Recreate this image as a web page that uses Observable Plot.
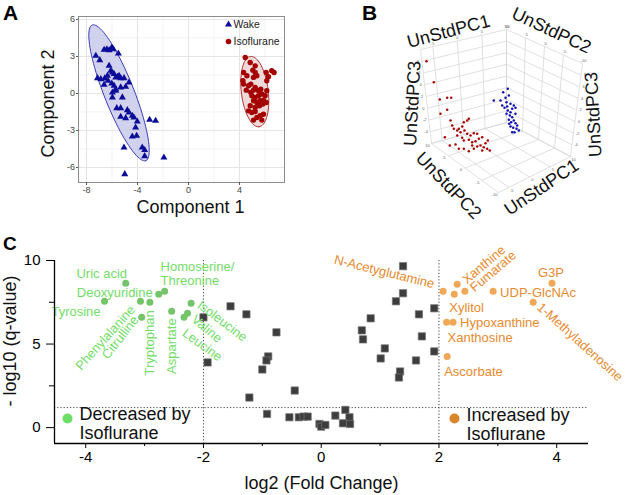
<!DOCTYPE html>
<html><head><meta charset="utf-8">
<script src="https://cdn.jsdelivr.net/npm/d3@7"></script>
<script src="https://cdn.jsdelivr.net/npm/@observablehq/plot@0.6"></script>
<style>
html,body{margin:0;padding:0;background:#fff;}
#fig{position:relative;width:625px;height:495px;overflow:hidden;font-family:"Liberation Sans",Arial,sans-serif;}
.lab{position:absolute;font-weight:bold;line-height:1;color:#000;z-index:5;}
</style></head><body>
<div id="fig">
 <div class="lab" style="left:3px;top:2px;font-size:21px">A</div>
 <div class="lab" style="left:362px;top:2px;font-size:21px">B</div>
 <div class="lab" style="left:3px;top:234px;font-size:19px">C</div>
</div>
<script>
const FONT = '"Liberation Sans", Arial, sans-serif';

// ---------- Panel A: PLS-DA scores ----------
const wakeComp1 = [-7.27,-6.96,-6.62,-6.41,-6.23,-6.02,-5.89,-5.50,-7.14,-6.88,-6.57,-6.36,-6.23,-6.10,-5.97,-5.84,-5.71,-5.58,-5.45,-5.32,-5.06,-4.67,-6.62,-6.31,-6.02,-5.84,-5.71,-5.97,-5.71,-5.32,-4.93,-5.97,-5.19,-5.63,-5.32,-4.80,-5.32,-4.93,-4.67,-4.41,-4.28,-4.02,-4.15,-4.41,-4.07,-5.06,-3.63,-3.44,-3.44,-3.05,-2.58,-1.93,-5.00];
const wakeComp2 = [3.05,2.70,3.54,3.59,3.51,3.73,3.59,3.24,1.24,1.16,1.22,1.43,2.24,1.84,1.70,1.57,1.30,1.35,1.43,1.24,1.24,0.89,0.70,1.03,0.81,0.62,0.35,0.08,0.22,0.49,0.54,-0.32,-0.32,-1.19,-1.19,-1.35,-1.89,-2.00,-1.54,-1.81,-1.95,-2.27,-2.76,-3.49,-3.43,-4.38,-4.38,-4.59,-5.08,-2.14,-2.22,-5.19,-6.54];
const isoComp1 = [4.45,4.84,5.23,5.05,5.23,4.32,4.58,4.27,5.36,5.10,6.09,6.53,6.71,6.27,6.14,4.32,4.71,4.89,4.53,4.89,5.10,5.23,5.49,5.67,4.97,5.23,5.49,5.75,5.10,5.36,5.62,5.88,6.01,6.14,4.84,5.23,5.57,5.83,6.09,4.97,5.23,4.71,5.62,5.88,5.10,5.75,5.36];
const isoComp2 = [2.92,2.51,2.24,1.89,1.70,1.70,1.43,1.03,1.43,1.30,1.70,1.84,1.70,1.35,1.03,0.76,0.62,0.76,0.27,0.08,0.27,0.49,0.22,0.35,-0.19,-0.32,-0.19,-0.05,-0.59,-0.73,-0.59,-0.54,-0.19,0.22,-1.00,-1.14,-1.00,-0.86,-0.73,-1.54,-1.46,-1.41,-1.81,-1.68,-2.16,-2.16,-1.95];
// confidence ellipses: centre, half-axis vectors (data units)
const wakeEllipse = {cx:-5.45, cy:0.05, ax:2.1, ay:-5.5, bx:1.1, by:0.43};
const isoEllipse  = {cx:5.2, cy:0.15, ax:0.33, ay:-2.85, bx:1.05, by:0.12};

// ---------- Panel B: 3-D unstandardised PCA (projected view) ----------
const isoView = [[106,60.7],[113.3,81.7],[119.3,99],[126.7,97.3],[130.7,97.3],[120,113.3],[126.7,109.3],[130,120],[131.7,125],[124.3,136.7],[129.3,145],[135,144],[138.3,128.3],[141.7,126],[143.3,121.7],[146.7,120],[148.3,118.3],[140,131.7],[144,130],[146.7,133.3],[150,135],[153.3,132.7],[156.7,133.3],[136.7,135],[141.7,137.3],[143.3,140],[148.3,139.3],[151.7,141.7],[155,140.7],[158.3,138.3],[161.7,136.7],[160,145],[163.3,146.7],[166.7,148.3],[169.3,150],[167.3,140],[165,142.7],[138.3,148.3],[143.3,148.3],[148.3,150.7],[153.3,148.3],[156.7,146],[161.7,150],[151.7,145],[133.3,128.3],[136.7,130]];
const wakeView = [[173.3,100],[180,100],[182.7,91.7],[187.3,88.3],[188.3,95],[185,97.3],[186,101.7],[190,103.3],[193.3,105],[195,107.3],[181.7,105],[184,107.3],[186.7,106],[187.3,110],[191.7,108.3],[186,113.3],[190,111.7],[189.3,115],[195,113.3],[191.7,116.7],[188.3,119.3],[190.7,121.7],[193.3,120],[195,122.7],[188.7,123.3],[196.7,125],[190,126],[192.7,127.3],[196,128.3],[198.3,130],[194,131.7],[191.7,131.7]];
const pc1Ticks = [10,5,0,-5];
const pc2Ticks = [10,5,0,-5,-10];
const pc3Ticks = [-6,-4,-2,0,2,4,6,8,10];

// ---------- Panel C: volcano plot ----------
const decreasedNames = ["Uric acid","Tyrosine","Deoxyuridine","Homoserine/\nThreonine","Phenylalanine","Citrulline","Tryptophan","Aspartate","Isoleucine","Valine","Leucine"];
const decreasedLog2FC = [-3.32,-3.68,-2.76,-2.66,-3.07,-3.05,-2.91,-2.54,-2.21,-2.27,-2.33];
const decreasedLogQ   = [8.64,7.56,7.98,8.16,7.56,6.60,7.50,6.96,7.44,6.84,6.60];
const increasedNames = ["N-Acetyglutamine","Xanthine","Xylitol","Fumarate","UDP-GlcNAc","G3P","1-Methyladenosine","Hypoxanthine","Xanthosine","Ascorbate"];
const increasedLog2FC = [2.07,2.31,2.26,2.44,2.92,3.92,3.60,2.24,2.13,2.14];
const increasedLogQ   = [8.16,8.58,7.98,8.16,8.16,8.64,7.50,6.30,6.30,4.26];
const nsLog2FC = [-1.54,-1.27,-2.00,-0.76,-0.90,-0.93,-1.93,-1.00,-0.45,-1.22,-0.92,-0.54,-0.38,-0.30,-0.23,-0.03,0.00,0.07,0.24,0.41,0.48,0.37,0.49,1.39,1.39,1.27,1.92,0.84,1.66,0.69,0.71,1.71,1.08,1.01,1.61,1.92,1.34,1.32];
const nsLogQ   = [7.26,6.78,6.60,5.70,4.26,4.02,3.90,3.48,2.22,1.80,0.82,0.62,0.62,0.66,0.66,0.22,0.06,0.16,0.72,1.06,0.62,0.26,0.22,9.66,8.04,7.56,7.14,6.54,6.78,5.82,5.28,5.46,4.74,4.14,4.02,4.56,3.36,3.00];
const fcThresholds = [-2, 2];
const qThreshold = 1.2;

// label placement (offsets in px, rotation in degrees)
const decLayout = [
 {dx:-24,dy:-10,r:0,a:"middle"},{dx:-4,dy:10,r:0,a:"end"},{dx:-6,dy:-2,r:0,a:"end"},{dx:-4,dy:-18,r:0,a:"start"},
 {dx:-8,dy:6,r:-48,a:"end"},{dx:-6,dy:0,r:-52,a:"end"},{dx:0,dy:8,r:-90,a:"end"},{dx:0,dy:7,r:-90,a:"end"},
 {dx:8,dy:0,r:37,a:"start"},{dx:6,dy:4,r:40,a:"start"},{dx:0,dy:14,r:36,a:"start"}];
const incLayout = [
 {dx:-9,dy:-7,r:14,a:"end"},{dx:7,dy:-3,r:-40,a:"start"},{dx:-5,dy:14,r:0,a:"start"},{dx:7,dy:-2,r:-40,a:"start"},
 {dx:7,dy:2,r:0,a:"start"},{dx:-1,dy:-10,r:0,a:"middle"},{dx:6,dy:3,r:42,a:"start"},{dx:7,dy:0,r:0,a:"start"},
 {dx:1,dy:15,r:0,a:"start"},{dx:-3,dy:15,r:0,a:"start"}];

const fig = document.getElementById("fig");
function place(el, left, top){ el.style.position="absolute"; el.style.left=left+"px"; el.style.top=top+"px"; fig.appendChild(el); }
const zip = (a,b) => a.map((v,i)=>({x:v,y:b[i]}));
function ellipse(e){ return d3.range(0,361,4).map(t=>{const r=t*Math.PI/180; return {x:e.cx+e.ax*Math.cos(r)+e.bx*Math.sin(r), y:e.cy+e.ay*Math.cos(r)+e.by*Math.sin(r)};}); }
const M = {textAnchor:"middle", lineAnchor:"middle"};

// ===== Panel A =====
const wake = zip(wakeComp1, wakeComp2), iso = zip(isoComp1, isoComp2);
const plotA = Plot.plot({
  width:320, height:230, marginLeft:78, marginRight:36, marginTop:16, marginBottom:48,
  style:{fontFamily:FONT, background:"transparent", overflow:"visible"},
  x:{domain:[-8.63,7.53]}, y:{domain:[-7.22,6.24]},
  marks:[
    Plot.ruleX([-6,-2,2,6], {stroke:"#f3f3f3"}),
    Plot.ruleY([-4.5,-1.5,1.5,4.5], {stroke:"#f3f3f3"}),
    Plot.ruleX([-8,-4,0,4], {stroke:"#e4e4e4"}),
    Plot.ruleY([-6,-3,0,3,6], {stroke:"#e4e4e4"}),
    Plot.line(ellipse(wakeEllipse), {x:"x", y:"y", fill:"#c5c7ea", fillOpacity:0.8, stroke:"#3c3cb4", strokeWidth:1}),
    Plot.line(ellipse(isoEllipse), {x:"x", y:"y", fill:"#ecd0d0", fillOpacity:0.8, stroke:"#b03030", strokeWidth:1}),
    Plot.dot(wake, {x:"x", y:"y", symbol:"triangle", r:2.6, fill:"#0c0c98"}),
    Plot.dot(iso, {x:"x", y:"y", r:2.7, fill:"#a40000"}),
    Plot.frame({stroke:"#8c8c8c"}),
    Plot.axisX({ticks:[-8,-4,0,4], tickSize:3, tickPadding:1.5, fontSize:9, stroke:"#555", fill:"#444", label:null, tickFormat:d=>String(d)}),
    Plot.axisY({ticks:[-6,-3,0,3,6], tickSize:2, tickPadding:1.5, fontSize:9, stroke:"#555", fill:"#444", label:null, tickFormat:d=>String(d)}),
    Plot.text(["Component 1"], {...M, frameAnchor:"bottom", dx:9, dy:25, fontSize:18, fill:"#111"}),
    Plot.text(["Component 2"], {...M, frameAnchor:"left", dx:-30.5, dy:4, rotate:-90, fontSize:18, fill:"#111"}),
    Plot.dot([0], {frameAnchor:"top-right", dx:-56, dy:8, symbol:"triangle", r:2.6, fill:"#0c0c98"}),
    Plot.dot([0], {frameAnchor:"top-right", dx:-56, dy:25, r:2.8, fill:"#a40000"}),
    Plot.text(["Wake"], {frameAnchor:"top-right", dx:-51, dy:8, textAnchor:"start", lineAnchor:"middle", fontSize:10.5, fill:"#222"}),
    Plot.text(["Isoflurane"], {frameAnchor:"top-right", dx:-51, dy:25, textAnchor:"start", lineAnchor:"middle", fontSize:10.5, fill:"#222"})
  ]
});
place(plotA, 0, 0);

// ===== Panel B =====
const C = {bb:[186,122], lb:[111,143], rb:[250,156], fb:[178,192], bt:[186,29], lt:[100,49], rt:[262,63]};
function bil(A,B,Cc,D,s,t){ return [0,1].map(k=>A[k]*(1-s)*(1-t)+B[k]*s*(1-t)+Cc[k]*(1-s)*t+D[k]*s*t); }
const leftWall=(u,w)=>bil(C.bb,C.lb,C.bt,C.lt,u,w);
const rightWall=(v,w)=>bil(C.bb,C.rb,C.bt,C.rt,v,w);
const floorF=(u,v)=>bil(C.bb,C.lb,C.rb,C.fb,u,v);
const nu=p=>(10-p)/17.5, nv=p=>(10-p)/20, nw=p=>(p+6)/16;
const seg=(p,q)=>({x1:p[0],y1:p[1],x2:q[0],y2:q[1]});
const grid=[];
[...pc1Ticks,-7.5].forEach(p=>{grid.push(seg(leftWall(nu(p),0),leftWall(nu(p),1))); grid.push(seg(floorF(nu(p),0),floorF(nu(p),1)));});
pc2Ticks.forEach(p=>{grid.push(seg(rightWall(nv(p),0),rightWall(nv(p),1))); grid.push(seg(floorF(0,nv(p)),floorF(1,nv(p))));});
pc3Ticks.forEach(p=>{grid.push(seg(leftWall(0,nw(p)),leftWall(1,nw(p)))); grid.push(seg(rightWall(0,nw(p)),rightWall(1,nw(p))));});
const tickLabs=[];
pc1Ticks.forEach(p=>{const a=leftWall(nu(p),1); tickLabs.push({x:a[0],y:a[1]-3,t:p}); const b=floorF(nu(p),1); tickLabs.push({x:b[0]+3,y:b[1]+3,t:p});});
pc2Ticks.forEach(p=>{const a=rightWall(nv(p),1); tickLabs.push({x:a[0]+1,y:a[1]-3,t:p}); const b=floorF(1,nv(p)); tickLabs.push({x:b[0]-4,y:b[1]+2,t:p});});
pc3Ticks.slice(1,8).forEach(p=>{const a=leftWall(1,nw(p)); tickLabs.push({x:a[0]-4,y:a[1],t:p});});
pc3Ticks.slice(1,8).forEach(p=>{const a=rightWall(1,nw(p)); tickLabs.push({x:a[0]+4,y:a[1],t:p});});
const bTitles=[
 {t:"UnStdPC1",x:128,y:31,r:-15},{t:"UnStdPC2",x:231,y:30,r:25},
 {t:"UnStdPC3",x:92,y:103,r:-87},{t:"UnStdPC3",x:273,y:114,r:-93},
 {t:"UnStdPC2",x:128,y:185,r:46},{t:"UnStdPC1",x:221,y:187,r:-34}];
const plotB = Plot.plot({
  width:305, height:230, margin:0,
  style:{fontFamily:FONT, background:"transparent", overflow:"visible"},
  x:{domain:[0,305], range:[0,305], axis:null}, y:{domain:[0,230], range:[0,230], axis:null},
  marks:[
    Plot.link(grid, {x1:"x1",y1:"y1",x2:"x2",y2:"y2", stroke:"#d2d2d2", strokeWidth:0.7}),
    Plot.text(tickLabs, {x:"x", y:"y", text:"t", fontSize:4, fill:"#666"}),
    Plot.dot(isoView, {x:d=>d[0], y:d=>d[1], r:1.25, fill:"#a80000"}),
    Plot.dot(wakeView, {x:d=>d[0], y:d=>d[1], r:1.25, fill:"#1010b0"}),
    ...bTitles.map(d=>Plot.text([d], {x:"x", y:"y", text:"t", rotate:d.r, fontSize:18, fill:"#111"}))
  ]
});
place(plotB, 320, 0);

// ===== Panel C =====
const dec = decreasedNames.map((n,i)=>({n, x:decreasedLog2FC[i], y:decreasedLogQ[i]}));
const inc = increasedNames.map((n,i)=>({n, x:increasedLog2FC[i], y:increasedLogQ[i]}));
const ns = zip(nsLog2FC, nsLogQ);
const GREEN_T="#74dc68", ORANGE_T="#e68a2e";
const plotC = Plot.plot({
  width:625, height:265, marginLeft:54, marginRight:37, marginTop:30, marginBottom:52,
  style:{fontFamily:FONT, background:"transparent", overflow:"visible"},
  x:{domain:[-4.53,4.54]}, y:{domain:[-0.95,10]},
  marks:[
    Plot.ruleX(fcThresholds, {stroke:"#444", strokeDasharray:"1.2,2"}),
    Plot.ruleY([qThreshold], {stroke:"#444", strokeDasharray:"1.2,2"}),
    Plot.dot(ns, {x:"x", y:"y", symbol:"square", r:4.1, fill:"#3d3d3d", stroke:"#727272", strokeWidth:0.7}),
    Plot.dot(dec, {x:"x", y:"y", r:3.5, fill:"#74c46a"}),
    Plot.dot(inc, {x:"x", y:"y", r:3.5, fill:"#f0a858"}),
    ...dec.map((d,i)=>Plot.text([d], {x:"x", y:"y", text:"n", dx:decLayout[i].dx, dy:decLayout[i].dy, rotate:decLayout[i].r, textAnchor:decLayout[i].a, lineAnchor:"middle", fontSize:13, lineHeight:1.08, fill:GREEN_T})),
    ...inc.map((d,i)=>Plot.text([d], {x:"x", y:"y", text:"n", dx:incLayout[i].dx, dy:incLayout[i].dy, rotate:incLayout[i].r, textAnchor:incLayout[i].a, lineAnchor:"middle", fontSize:13, fill:ORANGE_T})),
    Plot.ruleY([-0.95], {stroke:"#000", strokeWidth:1.3}),
    Plot.ruleX([-4.53], {stroke:"#000", strokeWidth:1.3}),
    Plot.axisX({ticks:[-4,-2,0,2,4], tickSize:5, tickPadding:3, fontSize:15, stroke:"#000", fill:"#000", label:null, tickFormat:d=>String(d)}),
    Plot.axisX({ticks:[-3,-1,1,3], tickSize:3, tickFormat:()=>"", stroke:"#000", label:null}),
    Plot.axisY({ticks:[0,5,10], tickSize:8, tickPadding:6, fontSize:15, stroke:"#000", fill:"#000", label:null, tickFormat:d=>String(d)}),
    Plot.axisY({ticks:[2.5,7.5], tickSize:5, tickFormat:()=>"", stroke:"#000", label:null}),
    Plot.text(["log2 (Fold Change)"], {...M, frameAnchor:"bottom", dy:40, fontSize:18, fill:"#111"}),
    Plot.text(["- log10 (q-value)"], {...M, frameAnchor:"left", dx:-44, dy:-11, rotate:-90, fontSize:18, fill:"#111"}),
    Plot.dot([0], {frameAnchor:"bottom-left", dx:13, dy:-25, r:5, fill:"#6ede66"}),
    Plot.text(["Decreased by\nIsoflurane"], {frameAnchor:"bottom-left", dx:25, dy:-20, textAnchor:"start", lineAnchor:"middle", fontSize:18, lineHeight:1.05, fill:"#111"}),
    Plot.dot([0], {frameAnchor:"bottom-right", dx:-134, dy:-25, r:5, fill:"#d9862a"}),
    Plot.text(["Increased by\nIsoflurane"], {frameAnchor:"bottom-right", dx:-122, dy:-19, textAnchor:"start", lineAnchor:"middle", fontSize:18, lineHeight:1.05, fill:"#111"})
  ]
});
place(plotC, 0, 230);
</script>
</body></html>
